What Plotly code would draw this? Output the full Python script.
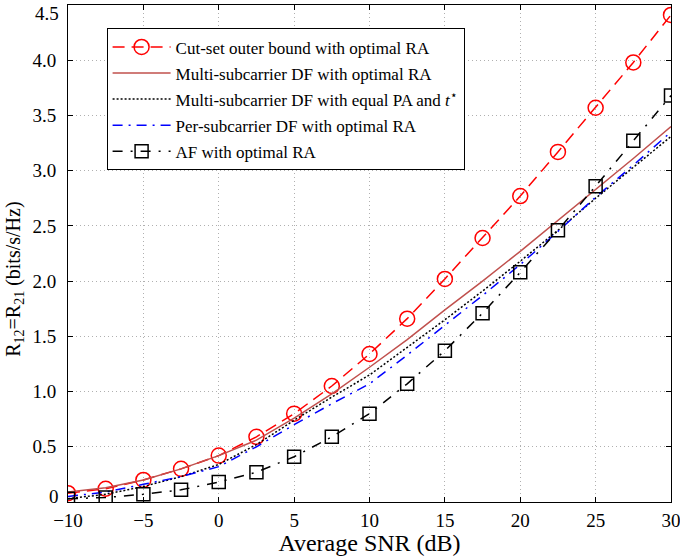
import plotly.graph_objects as go

snr = [-10, -7.5, -5, -2.5, 0, 2.5, 5, 7.5, 10, 12.5, 15, 17.5, 20, 22.5, 25, 27.5, 30]

cutset = [0.08, 0.12, 0.20, 0.30, 0.42, 0.59, 0.80, 1.05, 1.34, 1.66, 2.02, 2.39, 2.77, 3.17, 3.57, 3.98, 4.41]
df_opt = [0.09, 0.13, 0.20, 0.30, 0.42, 0.56, 0.76, 0.98, 1.22, 1.47, 1.74, 2.00, 2.27, 2.55, 2.83, 3.11, 3.40]
df_eq = [0.03, 0.07, 0.14, 0.23, 0.34, 0.52, 0.74, 0.95, 1.15, 1.40, 1.65, 1.91, 2.18, 2.46, 2.75, 3.03, 3.31]
per_df = [0.05, 0.09, 0.16, 0.23, 0.32, 0.50, 0.70, 0.89, 1.07, 1.33, 1.60, 1.87, 2.15, 2.45, 2.76, 3.05, 3.35]
af = [0.03, 0.04, 0.07, 0.11, 0.18, 0.27, 0.41, 0.59, 0.80, 1.07, 1.37, 1.71, 2.08, 2.46, 2.86, 3.27, 3.68]

x_ticks = [-10, -5, 0, 5, 10, 15, 20, 25, 30]
# inner y ticks as axis labels; the two end labels sit slightly inside, as in the figure
y_ticks = [0.5, 1.0, 1.5, 2.0, 2.5, 3.0, 3.5, 4.0]
y_labels = ["0.5", "1.0", "1.5", "2.0", "2.5", "3.0", "3.5", "4.0"]
y_end_ticks = [0, 4.5]
y_end_labels = ["0", "4.5"]

names = [
    "Cut-set outer bound with optimal RA",
    "Multi-subcarrier DF with optimal RA",
    "Multi-subcarrier DF with equal PA and <i>t</i><sup>\u22c6</sup>",
    "Per-subcarrier DF with optimal RA",
    "AF with optimal RA",
]

font = "Liberation Serif"

fig = go.Figure()

fig.add_trace(go.Scatter(
    x=snr, y=cutset, name=names[0], mode="lines+markers",
    line=dict(color="red", width=1.5, dash="12px,7px"),
    marker=dict(symbol="circle-open", size=15, color="red", line=dict(width=1.5)),
    legendgroup="a",
))
fig.add_trace(go.Scatter(
    x=snr, y=df_opt, name=names[1], mode="lines",
    line=dict(color="#C0504D", width=1.5),
    legendgroup="b",
))
fig.add_trace(go.Scatter(
    x=snr, y=df_eq, name=names[2], mode="lines",
    line=dict(color="black", width=1.5, dash="2px,2px"),
    legendgroup="c",
))
fig.add_trace(go.Scatter(
    x=snr, y=per_df, name=names[3], mode="lines",
    line=dict(color="blue", width=1.5, dash="10px,6px,2px,6px"),
    legendgroup="d",
))
fig.add_trace(go.Scatter(
    x=snr, y=af, name=names[4], mode="lines+markers",
    line=dict(color="black", width=1.5, dash="10px,8px,2px,8px"),
    marker=dict(symbol="square-open", size=13, color="black", line=dict(width=1.5)),
    legendgroup="e",
))

axis_common = dict(
    showline=True, linecolor="black", linewidth=1, mirror="ticks",
    ticks="inside", ticklen=5, tickcolor="black",
    showgrid=True, gridcolor="#b0b0b0", griddash="1px,3px", gridwidth=1,
    zeroline=False, automargin=False, ticklabeloverflow="allow",
    tickfont=dict(family=font, size=19, color="black"),
)

fig.update_xaxes(
    range=[-10, 30], tickvals=x_ticks, ticklabelstandoff=1,
    title=dict(text="Average SNR (dB)", font=dict(family=font, size=24, color="black"), standoff=0),
    **axis_common,
)
fig.update_yaxes(
    range=[0, 4.5], tickvals=y_ticks, ticktext=y_labels, ticklabelstandoff=7,
    **axis_common,
)

for v, lab, shift in zip(y_end_ticks, y_end_labels, [6, -8]):
    fig.add_annotation(
        x=0, xref="paper", y=v, yref="y", text=lab, showarrow=False,
        xanchor="right", yanchor="middle", xshift=-7, yshift=shift,
        font=dict(family=font, size=19, color="black"),
    )

# y title sits a bit below the axis middle in the original
fig.add_annotation(
    x=0, xref="paper", y=0.447, yref="paper", text="R<sub>12</sub>=R<sub>21</sub> (bits/s/Hz)",
    showarrow=False, textangle=-90, xanchor="center", yanchor="middle", xshift=-53,
    font=dict(family=font, size=20, color="black"),
)

fig.update_layout(
    width=680, height=556,
    margin=dict(l=68, r=9, t=5, b=54),
    paper_bgcolor="white", plot_bgcolor="white",
    font=dict(family=font, color="black"),
    showlegend=True,
    legend=dict(
        x=0.064, y=0.953, xanchor="left", yanchor="top",
        bgcolor="white", bordercolor="black", borderwidth=1,
        font=dict(family=font, size=17, color="black"),
        itemwidth=58, traceorder="grouped", tracegroupgap=1,
    ),
)

# the page's default body margin would shift the 680x556 figure inside the window
fig.write_html("out.html", post_script="document.body.style.margin='0';",
               config={"displayModeBar": False})
